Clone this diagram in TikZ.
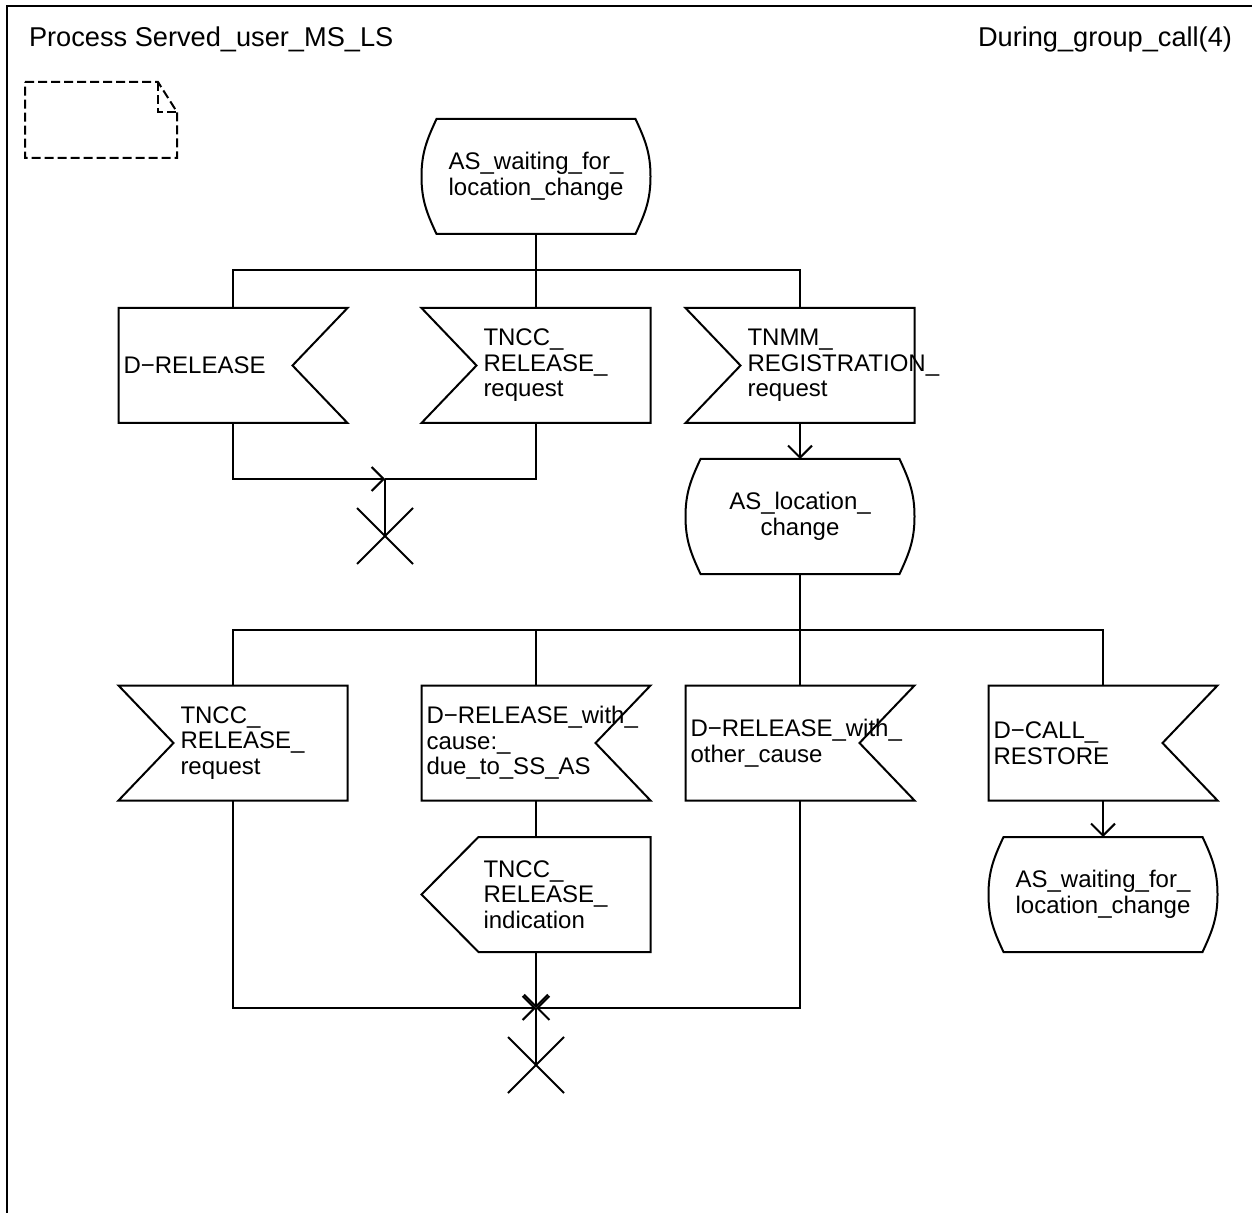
\documentclass[tikz,border=0pt]{standalone}
\usepackage{fontspec}
\setmainfont{Liberation Sans}
\usetikzlibrary{arrows.meta,shapes.misc}
\tikzset{box/.style={minimum width=113.5pt,minimum height=56.5pt,inner sep=0pt,
		font=\fontsize{12}{12.8}\selectfont,align=left},
	inright/.style={box,text width=109.5pt},
	inleft/.style={box,text width=52.5pt},
	sdlstate/.style={box,align=center},
	stopx/.style={cross out,draw,minimum size=27pt,inner sep=0pt},
	arr/.style={-{Straight Barb[length=6pt,width=12pt]}},
	heading/.style={font=\fontsize{13.6}{16}\selectfont,inner sep=0pt}}
% outlines of the SDL symbols
\newcommand{\sdlinright}[1]{\draw (#1.north west) -- (#1.north east) -- ([xshift=-27.5pt]#1.east) -- (#1.south east) -- (#1.south west) -- cycle;}
\newcommand{\sdlinleft}[1]{\draw (#1.north west) -- (#1.north east) -- (#1.south east) -- (#1.south west) -- ([xshift=27.5pt]#1.west) -- cycle;}
\newcommand{\sdloutleft}[1]{\draw ([xshift=28.5pt]#1.north west) -- (#1.north east) -- (#1.south east) -- ([xshift=28.5pt]#1.south west) -- (#1.west) -- cycle;}
\newcommand{\sdlstateline}[1]{\draw ([xshift=7.5pt]#1.north west) -- ([xshift=-7.5pt]#1.north east) to[out=-65,in=90] (#1.east) to[out=-90,in=65] ([xshift=-7.5pt]#1.south east) -- ([xshift=7.5pt]#1.south west) to[out=115,in=-90] (#1.west) to[out=90,in=-115] ([xshift=7.5pt]#1.north west) -- cycle;}
\begin{document}
\begin{tikzpicture}[x=0.5pt,y=-0.5pt,line width=1pt]
	\useasboundingbox (0,0) rectangle (1252,1213);
	% frame and heading
	\draw (7,1213) -- (7,6) -- (1252,6);
	\node[heading,anchor=base west] (proc) at (28,47) {Process Served\_user\_MS\_LS};
	\node[heading,anchor=base east] (page) at (1233,47) {During\_group\_call(4)};
	\draw[dash pattern=on 4.5pt off 2pt] (25,82) -- (158,82) -- (177,112) -- (177,158) -- (25,158) -- cycle;
	\draw[dash pattern=on 4.5pt off 2pt] (158,82) -- (158,112) -- (177,112);
	
	% symbols
	\node[sdlstate] (st1) at (536,176.5) {AS\_waiting\_for\_\\location\_change};
	\node[inright] (in1) at (233,365.5) {D−RELEASE};
	\node[inleft] (in2) at (536,365.5) {TNCC\_\\RELEASE\_\\request};
	\node[inleft] (in3) at (800,365.5) {TNMM\_\\REGISTRATION\_\\request};
	\node[sdlstate] (st2) at (800,516.5) {AS\_location\_\\change};
	\node[inleft] (in4) at (233,743) {TNCC\_\\RELEASE\_\\request};
	\node[inright] (in5) at (536,743) {D−RELEASE\_with\_\\cause:\_\\due\_to\_SS\_AS};
	\node[inright] (in6) at (800,743) {D−RELEASE\_with\_\\other\_cause};
	\node[inright] (in7) at (1103,743) {D−CALL\_\\RESTORE};
	\node[box,text width=52.5pt] (out1) at (536,894.5) {TNCC\_\\RELEASE\_\\indication};
	\node[sdlstate] (st3) at (1103,894.5) {AS\_waiting\_for\_\\location\_change};
	\node[stopx] (stop1) at (385,536) {};
	\node[stopx] (stop2) at (536,1065) {};
	\sdlstateline{st1}
	\sdlstateline{st2}
	\sdlstateline{st3}
	\sdlinright{in1}
	\sdlinleft{in2}
	\sdlinleft{in3}
	\sdlinleft{in4}
	\sdlinright{in5}
	\sdlinright{in6}
	\sdlinright{in7}
	\sdloutleft{out1}
	
	% connectors
	\coordinate (br1) at (536,270);
	\coordinate (mg1) at (385,479);
	\coordinate (br2) at (800,630);
	\coordinate (mg2) at (536,1008);
	\draw (st1.south) -- (br1);
	\draw (in1.north) |- (br1) -| (in3.north);
	\draw (br1) -- (in2.north);
	\draw[arr] (in1.south) |- (mg1);
	\draw (in2.south) |- (mg1);
	\draw (mg1) -- (stop1.center);
	\draw[arr] (in3.south) -- (st2.north);
	\draw (st2.south) -- (br2);
	\draw (in4.north) |- (br2) -| (in7.north);
	\draw (in5.north) -- (in5.north |- br2);
	\draw (br2) -- (in6.north);
	\draw (in5.south) -- (out1.north);
	\draw[arr] (in7.south) -- (st3.north);
	\draw[arr] (in4.south) |- (mg2);
	\draw[arr] (in6.south) |- (mg2);
	\draw[arr] (out1.south) -- (mg2);
	\draw (mg2) -- (stop2.center);
\end{tikzpicture}
\end{document}
